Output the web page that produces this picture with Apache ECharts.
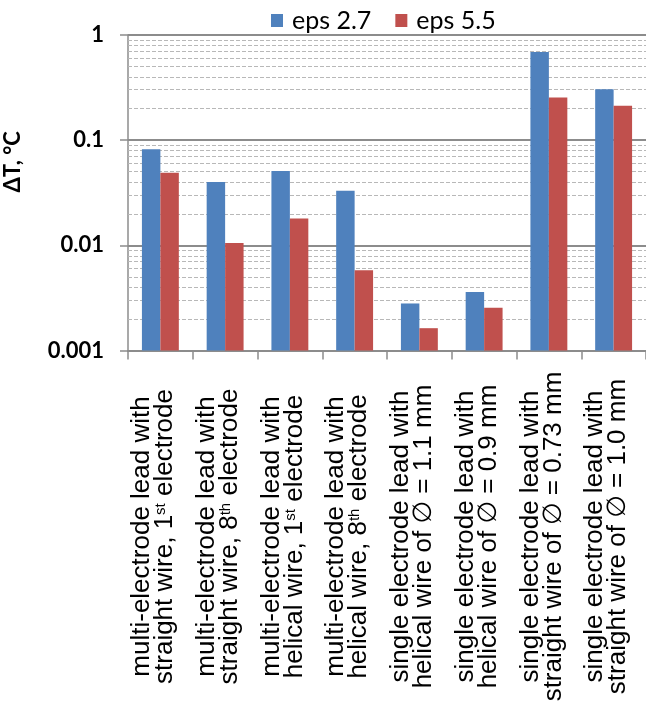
<!DOCTYPE html>
<html>
<head>
<meta charset="utf-8">
<script src="https://cdn.jsdelivr.net/npm/echarts@6/dist/echarts.min.js"></script>
<style>
html,body{margin:0;padding:0;background:#fff;overflow:hidden;}
#chart{width:646px;height:708px;}
</style>
</head>
<body>
<div id="chart"></div>
<script>
var categories = [
  'multi-electrode lead with\nstraight wire, 1{sup|st} electrode',
  'multi-electrode lead with\nstraight wire, 8{sup|th} electrode',
  'multi-electrode lead with\nhelical wire, 1{sup|st} electrode',
  'multi-electrode lead with\nhelical wire, 8{sup|th} electrode',
  'single electrode lead with\nhelical wire of \u2205 = 1.1 mm',
  'single electrode lead with\nhelical wire of \u2205 = 0.9 mm',
  'single electrode lead with\nstraight wire of \u2205 = 0.73 mm',
  'single electrode lead with\nstraight wire of \u2205 = 1.0 mm'
];
var seriesNames = ['eps 2.7', 'eps 5.5'];
var eps27 = [0.082, 0.040, 0.051, 0.033, 0.0028, 0.0036, 0.69, 0.305];
var eps55 = [0.049, 0.0105, 0.018, 0.0058, 0.00163, 0.00255, 0.255, 0.212];
var yTickLabels = ['0.001', '0.01', '0.1', '1'];
var yMin = 0.001, yMax = 1;
var minorGrid = [0.002,0.003,0.004,0.005,0.006,0.007,0.008,0.009,
                 0.02,0.03,0.04,0.05,0.06,0.07,0.08,0.09,
                 0.2,0.3,0.4,0.5,0.6,0.7,0.8,0.9];

// log10 scale mapped onto a value axis (bars rise from the 0.001 baseline)
function toLog(v) { return Math.log10(v) - Math.log10(yMin); }
var logMax = toLog(yMax);

var chart = echarts.init(document.getElementById('chart'), null, {renderer:'canvas'});
var gray = '#8c8c8c';
var labelFont = '"Liberation Sans", Arial, "DejaVu Sans", sans-serif';
var boldFont = 'Lato, "Open Sans", sans-serif';

chart.setOption({
  animation: false,
  legend: {
    data: seriesNames,
    left: 266, top: 3,
    itemWidth: 12, itemHeight: 13, itemGap: 24,
    icon: 'rect',
    textStyle: {fontFamily: boldFont, fontSize: 25, color: '#000', padding: [0,0,0,4]}
  },
  grid: {left: 128, right: 0, top: 35, bottom: 357.5, containLabel: false, outerBoundsMode: 'none'},
  xAxis: {
    type: 'category',
    data: categories,
    axisLine: {show: true, lineStyle: {color: gray, width: 2}},
    axisTick: {show: true, length: 9, interval: 0, lineStyle: {color: gray, width: 1.5}},
    axisLabel: {
      interval: 0, rotate: 90, margin: 186,
      align: 'center', verticalAlign: 'middle',
      padding: [0, 0, 14, 0],
      fontFamily: labelFont, fontSize: 26, lineHeight: 23, color: '#000',
      rich: {
        sup: {fontFamily: labelFont, fontSize: 15, lineHeight: 15, verticalAlign: 'top', color: '#000'}
      }
    },
    splitLine: {show: false}
  },
  yAxis: {
    type: 'value', min: 0, max: logMax, interval: 1,
    name: '\u0394T, \u00b0C',
    nameLocation: 'middle', nameRotate: 90, nameGap: 104,
    nameTextStyle: {fontFamily: boldFont, fontWeight: 'bold', fontSize: 22, color: '#000', padding: [0,0,0,62]},
    axisLine: {show: true, lineStyle: {color: gray, width: 1.5}},
    axisTick: {show: true, length: 8, lineStyle: {color: gray, width: 1.5}},
    axisLabel: {
      margin: 24, fontFamily: boldFont, fontWeight: 'bold', fontSize: 22, color: '#000',
      formatter: function (v) { return yTickLabels[Math.round(v)]; }
    },
    splitLine: {show: true, lineStyle: {color: gray, width: 2}}
  },
  series: [
    {
      name: seriesNames[0], type: 'bar', data: eps27.map(toLog),
      barGap: '0%', barCategoryGap: '43%',
      itemStyle: {color: '#4F81BD'},
      markLine: {
        silent: true, symbol: 'none', z: 1,
        label: {show: false},
        lineStyle: {color: '#b8b8b8', type: [4, 2], width: 1},
        data: minorGrid.map(function (v) { return {yAxis: toLog(v)}; })
      }
    },
    {
      name: seriesNames[1], type: 'bar', data: eps55.map(toLog),
      barGap: '0%', barCategoryGap: '43%',
      itemStyle: {color: '#C0504D'}
    }
  ]
});
</script>
</body>
</html>
